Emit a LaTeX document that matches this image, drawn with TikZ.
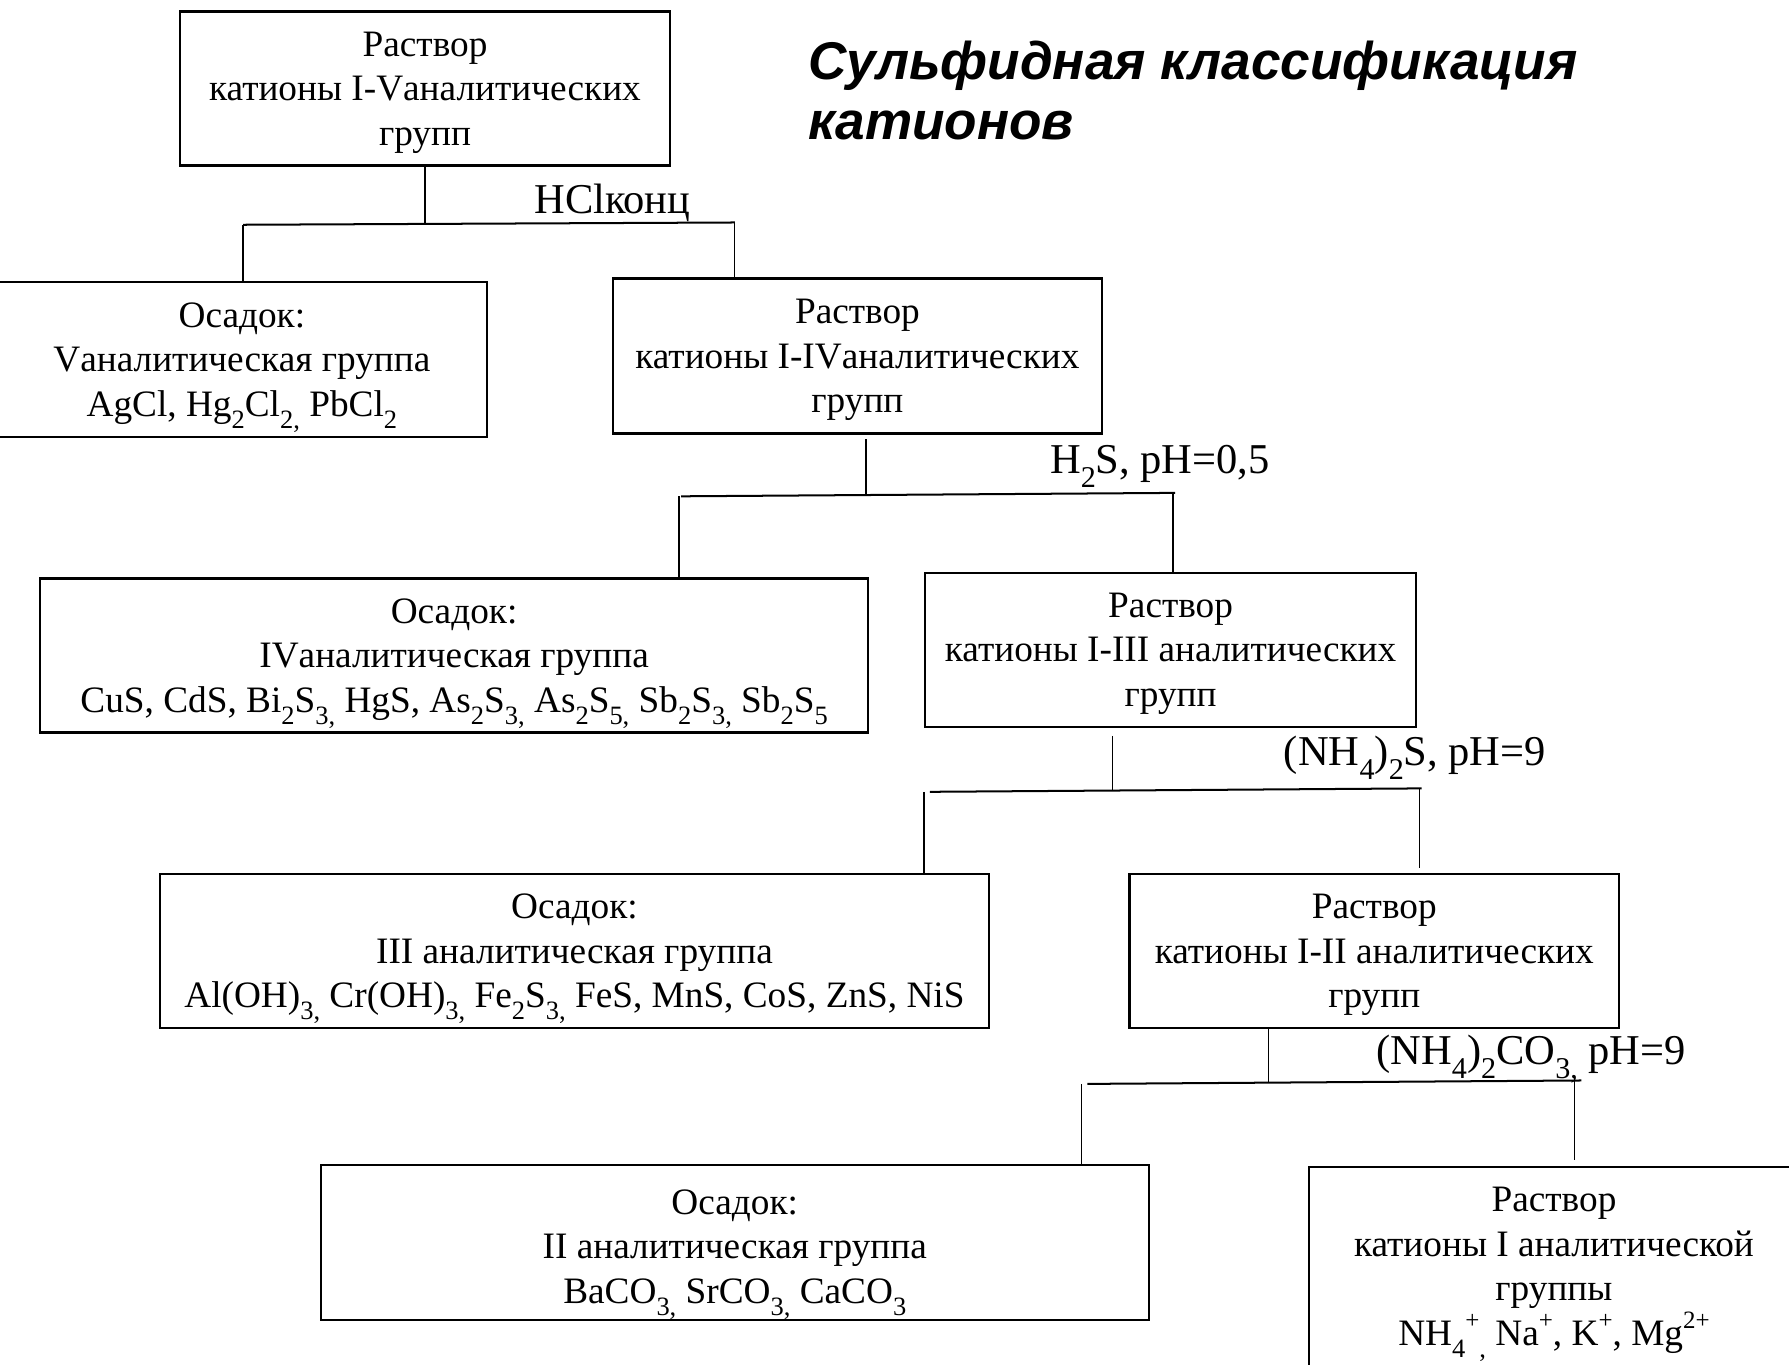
\documentclass[tikz,border=0pt]{standalone}
\usepackage{graphicx}
\usepackage{fontspec}
\setmainfont{Liberation Serif}
\newfontfamily\titlefont{Liberation Sans}
\newcommand\bodyfont{\fontsize{18.6}{22.2}\selectfont}
\newcommand\labelfont{\fontsize{21.2}{24}\selectfont}
\newcommand\chemsub[1]{\smash{\raisebox{-0.32em}{\scalebox{0.71}{#1}}}}
\newcommand\chemsup[1]{\smash{\raisebox{0.45em}{\scalebox{0.67}{#1}}}}
\begin{document}
\begin{tikzpicture}[x=0.02cm,y=-0.02cm,
  box/.style={draw, line width=1.1pt, inner sep=0pt},
  txt/.style={inner sep=0pt, align=center, font=\bodyfont},
  conn/.style={line width=0.7pt},
  bar/.style={line width=1.0pt},
  lbl/.style={inner sep=0pt, anchor=base west, font=\labelfont},
  ttl/.style={inner sep=0pt, anchor=base west, font=\titlefont\fontsize{26.5}{29.6}\bfseries\itshape\selectfont}]
\fill[white] (0,0) rectangle (1568,1196);
\useasboundingbox (0,0) rectangle (1568,1196);

% title
\node[ttl] (T1) at (708,70) {Сульфидная классификация};
\node[ttl] (T2) at (708,122) {катионов};

% boxes
\node[box, minimum width=8.58cm, minimum height=2.70cm] (A) at (372.5,77.5) {};
\node[box, minimum width=8.60cm, minimum height=2.72cm] (B) at (212,315) {};
\node[box, minimum width=8.58cm, minimum height=2.72cm] (C) at (751.5,312) {};
\node[box, minimum width=14.52cm, minimum height=2.70cm] (D) at (398,574.5) {};
\node[box, minimum width=8.60cm, minimum height=2.70cm] (E) at (1026,569.5) {};
\node[box, minimum width=14.54cm, minimum height=2.70cm] (F) at (503.5,833.5) {};
\node[box, minimum width=8.58cm, minimum height=2.70cm] (G) at (1204.5,833.5) {};
\node[box, minimum width=14.52cm, minimum height=2.72cm] (H) at (644,1089) {};
\node[box, minimum width=8.60cm, minimum height=3.48cm] (I) at (1362,1110) {};

% box texts
\node[txt] (At) at ([yshift=-0.07cm]A.center)
  {Раствор\\катионы I-Vаналитических\\групп};
\node[txt] (Bt) at ([yshift=-0.07cm]B.center)
  {Осадок:\\Vаналитическая группа\\AgCl, Hg\chemsub{2}Cl\chemsub{2,} PbCl\chemsub{2}};
\node[txt] (Ct) at ([yshift=-0.07cm]C.center)
  {Раствор\\катионы I-IVаналитических\\групп};
\node[txt] (Dt) at ([yshift=-0.07cm]D.center)
  {Осадок:\\IVаналитическая группа\\CuS, CdS, Bi\chemsub{2}S\chemsub{3,} HgS, As\chemsub{2}S\chemsub{3,} As\chemsub{2}S\chemsub{5,} Sb\chemsub{2}S\chemsub{3,} Sb\chemsub{2}S\chemsub{5}};
\node[txt] (Et) at ([yshift=-0.07cm]E.center)
  {Раствор\\катионы I-III аналитических\\групп};
\node[txt] (Ft) at ([yshift=-0.07cm]F.center)
  {Осадок:\\III аналитическая группа\\Al(OH)\chemsub{3,} Cr(OH)\chemsub{3,} Fe\chemsub{2}S\chemsub{3,} FeS, MnS, CoS, ZnS, NiS};
\node[txt] (Gt) at ([yshift=-0.07cm]G.center)
  {Раствор\\катионы I-II аналитических\\групп};
\node[txt] (Ht) at ([yshift=-0.07cm]H.center)
  {Осадок:\\II аналитическая группа\\BaCO\chemsub{3,} SrCO\chemsub{3,} CaCO\chemsub{3}};
\node[txt] (It) at ([yshift=-0.07cm]I.center)
  {Раствор\\катионы I аналитической\\группы\\NH\chemsub{4}\chemsup{+}\chemsub{,} Na\chemsup{+}, K\chemsup{+}, Mg\chemsup{2+}};

% reagent labels
\node[lbl] (LA) at (468,187) {HClконц};
\node[lbl] (LC) at (920,415) {H\chemsub{2}S, pH=0,5};
\node[lbl] (LE) at (1125,671) {(NH\chemsub{4})\chemsub{2}S, pH=9};
\node[lbl] (LG) at (1206,933) {(NH\chemsub{4})\chemsub{2}CO\chemsub{3,} pH=9};

% level 1
\coordinate (jA) at (372.5,196);
\coordinate (lA) at (213,197);
\coordinate (rA) at (644,195);
\draw[conn] (A.south) -- (jA);
\draw[bar] (lA) -- (rA);
\draw[conn] (lA) -- (lA |- B.north);
\draw[conn] (rA) -- (rA |- C.north);

% level 2
\coordinate (jC) at (759,433);
\coordinate (lC) at (597,435);
\coordinate (rC) at (1030,432);
\coordinate (lCv) at (595,435);
\coordinate (rCv) at (1028,432);
\draw[conn, shorten <=0.08cm] (C.south -| jC) -- (jC);
\draw[bar] (lC) -- (rC);
\draw[conn] (lCv) -- (lCv |- D.north);
\draw[conn] (rCv) -- (rCv |- E.north);

% level 3
\coordinate (jE) at (975,692);
\coordinate (lE) at (815,694);
\coordinate (rE) at (1246,691);
\coordinate (lEv) at (810,694);
\coordinate (rEv) at (1244,691);
\draw[conn, shorten <=0.14cm] (E.south -| jE) -- (jE);
\draw[bar] (lE) -- (rE);
\draw[conn] (lEv) -- (lEv |- F.north);
\draw[conn, shorten >=0.08cm] (rEv) -- (rEv |- G.north);

% level 4
\coordinate (jG) at (1112,948);
\coordinate (lG) at (953,950);
\coordinate (rG) at (1386,947);
\coordinate (lGv) at (948,950);
\coordinate (rGv) at (1380,947);
\draw[conn] (G.south -| jG) -- (jG);
\draw[bar] (lG) -- (rG);
\draw[conn] (lGv) -- (lGv |- H.north);
\draw[conn, shorten >=0.1cm] (rGv) -- (rGv |- I.north);
\end{tikzpicture}
\end{document}
